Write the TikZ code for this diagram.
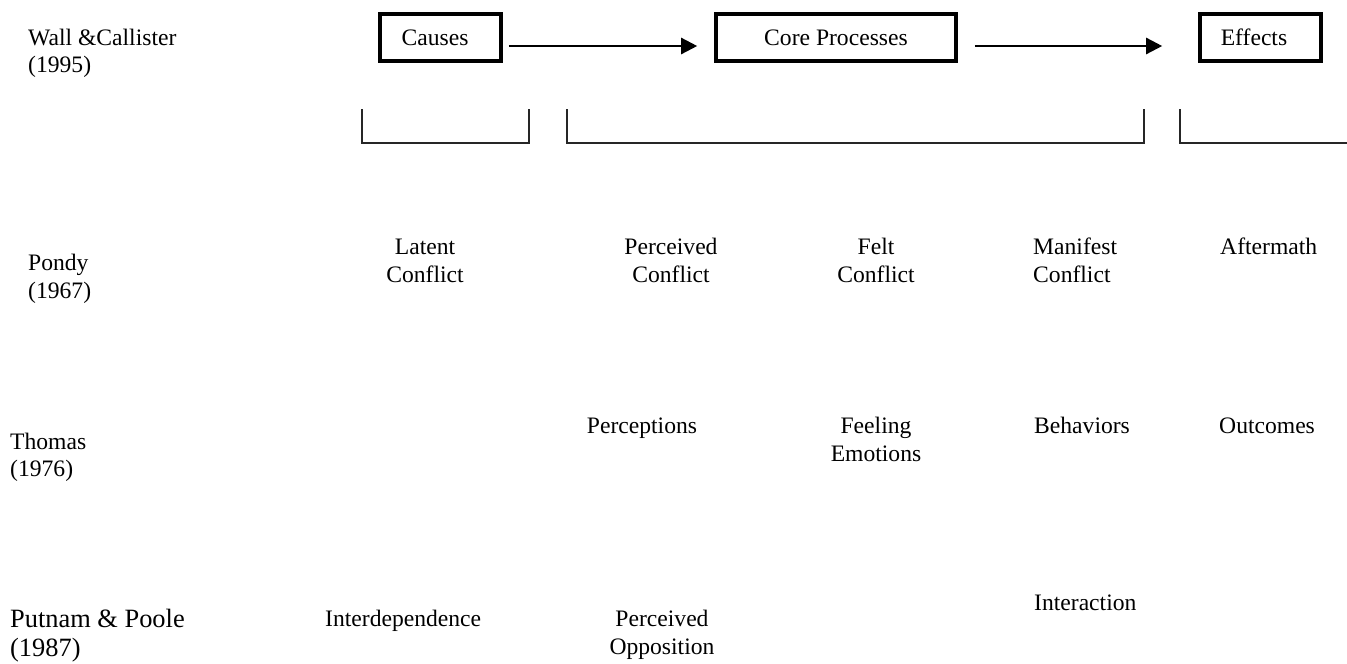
\documentclass[tikz,border=0pt]{standalone}
\usepackage{fontspec}
\setmainfont{Liberation Serif}
\usetikzlibrary{arrows.meta}
\begin{document}
\begin{tikzpicture}[x=1pt,y=-1pt,
  txt/.style={inner sep=0pt, font=\fontsize{23.6}{28}\selectfont},
  ctr/.style={txt, align=center, anchor=base},
  lft/.style={txt, align=left, anchor=base west},
  stage/.style={draw, line width=3.6pt, inner sep=0pt, minimum height=47pt, font=\fontsize{23.6}{28}\selectfont},
  flow/.style={line width=2.4pt, -{Triangle[length=16pt,width=16pt]}},
  bracketline/.style={line width=1.4pt, black!85}
]
\useasboundingbox (0,0) rectangle (1347,664);

% top row: stage boxes
\node[stage, minimum width=121pt] (causes) at (440.5,37.5) {\hspace*{-11pt}Causes};
\node[stage, minimum width=240pt] (core) at (836,37.5) {Core Processes};
\node[stage, minimum width=121pt] (effects) at (1260.5,37.5) {\hspace*{-13pt}Effects};

\draw[flow] ([xshift=6pt,yshift=-8.5pt]causes.east) -- ([xshift=-17pt,yshift=-8.5pt]core.west);
\draw[flow] ([xshift=17pt,yshift=-8.5pt]core.east) -- ([xshift=-36pt,yshift=-8.5pt]effects.west);

% brackets
\draw[bracketline] (362,109) |- (529,143) -- (529,109);
\draw[bracketline] (567,109) |- (1144,143) -- (1144,109);
\draw[bracketline] (1180,109) |- (1347,143);

% row labels (anchor base = baseline of last line)
\node[lft, font=\fontsize{23.6}{27}\selectfont] (wall) at (28,72) {Wall \&Callister\\(1995)};
\node[lft] (pondy) at (28,298) {Pondy\\(1967)};
\node[lft, font=\fontsize{23.6}{27}\selectfont] (thomas) at (10,476) {Thomas\\(1976)};
\node[lft, font=\fontsize{26.4}{29}\selectfont] (putnam) at (10,656) {Putnam \& Poole\\(1987)};

% Pondy row
\node[ctr] (latent) at (425,282) {Latent\\Conflict};
\node[ctr] (perceived) at (671,282) {Perceived\\Conflict};
\node[ctr] (felt) at (876,282) {Felt\\Conflict};
\node[lft] (manifest) at (1033,282) {Manifest\\Conflict};
\node[lft] (aftermath) at (1220,254) {Aftermath};

% Thomas row
\node[ctr] (perceptions) at (642,433) {Perceptions};
\node[ctr] (feeling) at (876,461) {Feeling\\Emotions};
\node[lft] (behaviors) at (1034,433) {Behaviors};
\node[lft] (outcomes) at (1219,433) {Outcomes};

% Putnam & Poole row
\node[lft] (interdep) at (325,626) {Interdependence};
\node[ctr] (opposition) at (662,654) {Perceived\\Opposition};
\node[lft] (interaction) at (1034,610) {Interaction};
\end{tikzpicture}
\end{document}
